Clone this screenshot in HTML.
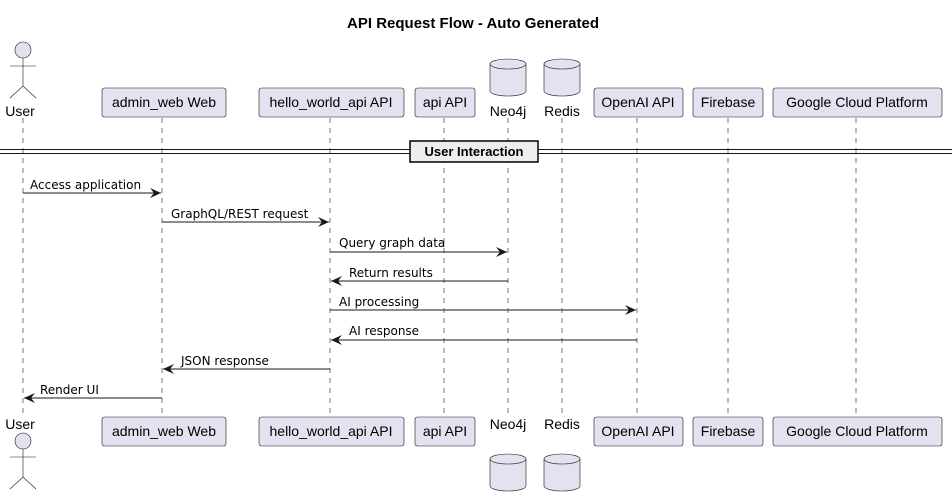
<!DOCTYPE html>
<html><head><meta charset="utf-8"><style>
html,body{margin:0;padding:0;background:#fff;}
svg{display:block;font-family:"Liberation Sans","DejaVu Sans",sans-serif;}
</style></head><body>
<svg width="952" height="496" viewBox="0 0 952 496" xmlns="http://www.w3.org/2000/svg">
<defs>
<marker id="a" markerWidth="12" markerHeight="10" refX="11" refY="5" orient="auto" markerUnits="userSpaceOnUse">
<path d="M0,0 L11,5 L0,10 L4,5 Z" fill="#181818"/>
</marker>
</defs>
<text x="473" y="28" text-anchor="middle" font-size="15" font-weight="bold" fill="#000">API Request Flow - Auto Generated</text>
<g stroke="#181818" stroke-width="0.6" stroke-dasharray="5,5">
<line x1="23" y1="118" x2="23" y2="416"/>
<line x1="162" y1="118" x2="162" y2="416"/>
<line x1="330" y1="118" x2="330" y2="416"/>
<line x1="444" y1="118" x2="444" y2="416"/>
<line x1="508" y1="118" x2="508" y2="416"/>
<line x1="562" y1="118" x2="562" y2="416"/>
<line x1="637" y1="118" x2="637" y2="416"/>
<line x1="728" y1="118" x2="728" y2="416"/>
<line x1="856" y1="118" x2="856" y2="416"/>
</g>
<g fill="#E2E2F0" stroke="#181818" stroke-width="0.6">
<rect x="102" y="88" width="124" height="29" rx="2.5"/>
<rect x="259" y="88" width="145" height="29" rx="2.5"/>
<rect x="415" y="88" width="60" height="29" rx="2.5"/>
<rect x="594" y="88" width="89" height="29" rx="2.5"/>
<rect x="693" y="88" width="70" height="29" rx="2.5"/>
<rect x="773" y="88" width="169" height="29" rx="2.5"/>
<rect x="102" y="417" width="124" height="29" rx="2.5"/>
<rect x="259" y="417" width="145" height="29" rx="2.5"/>
<rect x="415" y="417" width="60" height="29" rx="2.5"/>
<rect x="594" y="417" width="89" height="29" rx="2.5"/>
<rect x="693" y="417" width="70" height="29" rx="2.5"/>
<rect x="773" y="417" width="169" height="29" rx="2.5"/>
<path d="M490,64 A18,5 0 0 1 526,64 L526,91 A18,5 0 0 1 490,91 Z"/>
<path d="M490,64 A18,5 0 0 0 526,64" fill="none"/>
<path d="M544,64 A18,5 0 0 1 580,64 L580,91 A18,5 0 0 1 544,91 Z"/>
<path d="M544,64 A18,5 0 0 0 580,64" fill="none"/>
<path d="M490,459 A18,5 0 0 1 526,459 L526,486 A18,5 0 0 1 490,486 Z"/>
<path d="M490,459 A18,5 0 0 0 526,459" fill="none"/>
<path d="M544,459 A18,5 0 0 1 580,459 L580,486 A18,5 0 0 1 544,486 Z"/>
<path d="M544,459 A18,5 0 0 0 580,459" fill="none"/>
<circle cx="23" cy="50" r="8"/>
<circle cx="23" cy="441" r="8"/>
</g>
<g stroke="#181818" stroke-width="0.6" fill="none">
<path d="M23,58 L23,86 M10,66 L36,66 M10,98 L23,86 L36,98"/>
<path d="M23,449 L23,477 M10,457 L36,457 M10,489 L23,477 L36,489"/>
</g>
<g font-size="14" fill="#000" text-anchor="middle">
<text x="20" y="116">User</text>
<text x="20" y="429">User</text>
<text x="508" y="116">Neo4j</text>
<text x="562" y="116">Redis</text>
<text x="508" y="429">Neo4j</text>
<text x="562" y="429">Redis</text>
<text x="164" y="107">admin_web Web</text>
<text x="331" y="107">hello_world_api API</text>
<text x="445" y="107">api API</text>
<text x="638" y="107">OpenAI API</text>
<text x="728" y="107">Firebase</text>
<text x="857" y="107">Google Cloud Platform</text>
<text x="164" y="436">admin_web Web</text>
<text x="331" y="436">hello_world_api API</text>
<text x="445" y="436">api API</text>
<text x="638" y="436">OpenAI API</text>
<text x="728" y="436">Firebase</text>
<text x="857" y="436">Google Cloud Platform</text>
</g>
<g stroke="#181818" stroke-width="1">
<line x1="0" y1="149.5" x2="952" y2="149.5"/>
<line x1="0" y1="153.5" x2="952" y2="153.5"/>
</g>
<rect x="410" y="141" width="128" height="21" fill="#EEEEEE" stroke="#000" stroke-width="1.5"/>
<text x="474" y="156" text-anchor="middle" font-size="13" font-weight="bold">User Interaction</text>
<g stroke="#181818" stroke-width="1" marker-end="url(#a)">
<line x1="23" y1="193" x2="161" y2="193"/>
<line x1="162" y1="222" x2="329" y2="222"/>
<line x1="330" y1="252" x2="507" y2="252"/>
<line x1="508" y1="281" x2="331" y2="281"/>
<line x1="330" y1="310" x2="636" y2="310"/>
<line x1="637" y1="340" x2="331" y2="340"/>
<line x1="330" y1="369" x2="163" y2="369"/>
<line x1="162" y1="398" x2="24" y2="398"/>
</g>
<g font-size="12" fill="#000" font-family="'DejaVu Sans',sans-serif">
<text x="30" y="189">Access application</text>
<text x="171" y="218">GraphQL/REST request</text>
<text x="339" y="247">Query graph data</text>
<text x="349" y="277">Return results</text>
<text x="339" y="306">AI processing</text>
<text x="349" y="335">AI response</text>
<text x="181" y="365">JSON response</text>
<text x="40" y="394">Render UI</text>
</g>
</svg>
</body></html>
